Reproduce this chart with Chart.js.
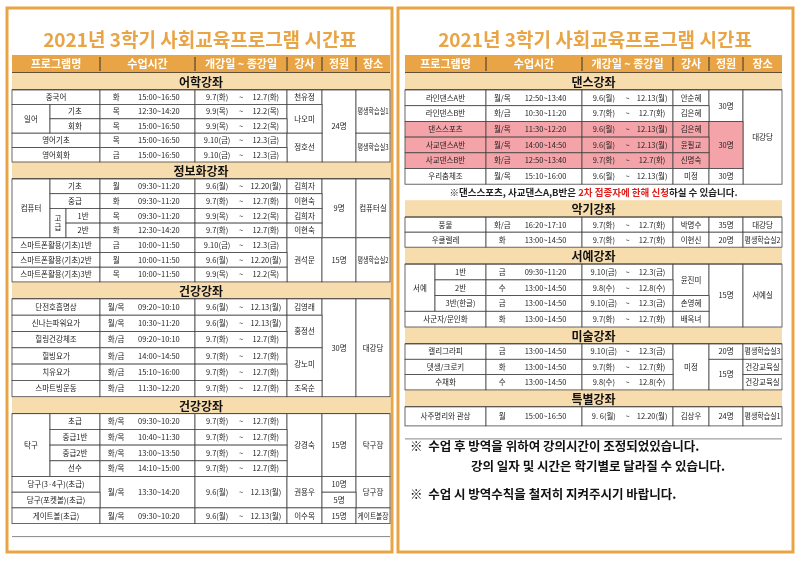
<!DOCTYPE html>
<html>
<head>
<meta charset="utf-8">
<script src="https://cdn.jsdelivr.net/npm/chart.js@4"></script>
<style>body{margin:0;background:#fff}</style>
</head>
<body>
<canvas id="canvas" width="800" height="566"></canvas>
<script>
const TITLE = "2021년 3학기 사회교육프로그램 시간표";
const HEADERS = ["프로그램명", "수업시간", "개강일 ~ 종강일", "강사", "정원", "장소"];

// row: [name, day, time, start, end, teacher, capacity, place]; null = merged with the cell above
const language = [
	["중국어", "화", "15:00~16:50", "9.7(화)", "12.7(화)", "천유정", "24명", "평생학습실1"],
	[["일어", "기초"], "목", "12:30~14:20", "9.9(목)", "12.2(목)", "나오미", null, null],
	[[null, "회화"], "목", "15:00~16:50", "9.9(목)", "12.2(목)", null, null, null],
	["영어기초", "목", "15:00~16:50", "9.10(금)", "12.3(금)", "정호선", null, "평생학습실3"],
	["영어회화", "금", "15:00~16:50", "9.10(금)", "12.3(금)", null, null, null],
];
const computer = [
	[["컴퓨터", "기초"], "월", "09:30~11:20", "9.6(월)", "12.20(월)", "김희자", "9명", "컴퓨터실"],
	[[null, "중급"], "화", "09:30~11:20", "9.7(화)", "12.7(화)", "이현숙", null, null],
	[[null, "고급", "1반"], "목", "09:30~11:20", "9.9(목)", "12.2(목)", "김희자", null, null],
	[[null, null, "2반"], "화", "12:30~14:20", "9.7(화)", "12.7(화)", "이현숙", null, null],
	["스마트폰활용(기초)1반", "금", "10:00~11:50", "9.10(금)", "12.3(금)", "권석문", "15명", "평생학습실2"],
	["스마트폰활용(기초)2반", "월", "10:00~11:50", "9.6(월)", "12.20(월)", null, null, null],
	["스마트폰활용(기초)3반", "목", "10:00~11:50", "9.9(목)", "12.2(목)", null, null, null],
];
const health1 = [
	["단전호흡명상", "월/목", "09:20~10:10", "9.6(월)", "12.13(월)", "김영래", "30명", "대강당"],
	["신나는파워요가", "월/목", "10:30~11:20", "9.6(월)", "12.13(월)", "홍정선", null, null],
	["힐링건강체조", "화/금", "09:20~10:10", "9.7(화)", "12.7(화)", null, null, null],
	["힐빙요가", "화/금", "14:00~14:50", "9.7(화)", "12.7(화)", "강노미", null, null],
	["치유요가", "화/금", "15:10~16:00", "9.7(화)", "12.7(화)", null, null, null],
	["스마트빙운동", "화/금", "11:30~12:20", "9.7(화)", "12.7(화)", "조옥순", null, null],
];
const health2 = [
	[["탁구", "초급"], "화/목", "09:30~10:20", "9.7(화)", "12.7(화)", "강경숙", "15명", "탁구장"],
	[[null, "중급1반"], "화/목", "10:40~11:30", "9.7(화)", "12.7(화)", null, null, null],
	[[null, "중급2반"], "화/목", "13:00~13:50", "9.7(화)", "12.7(화)", null, null, null],
	[[null, "선수"], "화/목", "14:10~15:00", "9.7(화)", "12.7(화)", null, null, null],
	["당구(3·4구)(초급)", "월/목", "13:30~14:20", "9.6(월)", "12.13(월)", "권용우", "10명", "당구장"],
	["당구(포켓볼)(초급)", null, null, null, null, null, "5명", null],
	["게이트볼(초급)", "월/목", "09:30~10:20", "9.6(월)", "12.13(월)", "이수목", "15명", "게이트볼장"],
];
const dance = [
	["라인댄스A반", "월/목", "12:50~13:40", "9.6(월)", "12.13(월)", "안순혜", "30명", "대강당"],
	["라인댄스B반", "화/금", "10:30~11:20", "9.7(화)", "12.7(화)", "김은혜", null, null],
	["댄스스포츠", "월/목", "11:30~12:20", "9.6(월)", "12.13(월)", "김은혜", "30명", null],
	["사교댄스A반", "월/목", "14:00~14:50", "9.6(월)", "12.13(월)", "윤필교", null, null],
	["사교댄스B반", "화/금", "12:50~13:40", "9.7(화)", "12.7(화)", "신명숙", null, null],
	["우리춤체조", "월/목", "15:10~16:00", "9.6(월)", "12.13(월)", "미정", "30명", null],
];
const music = [
	["풍물", "화/금", "16:20~17:10", "9.7(화)", "12.7(화)", "박명수", "35명", "대강당"],
	["우쿨렐레", "화", "13:00~14:50", "9.7(화)", "12.7(화)", "이현신", "20명", "평생학습실2"],
];
const calligraphy = [
	[["서예", "1반"], "금", "09:30~11:20", "9.10(금)", "12.3(금)", "윤진미", "15명", "서예실"],
	[[null, "2반"], "수", "13:00~14:50", "9.8(수)", "12.8(수)", null, null, null],
	[[null, "3반(한글)"], "금", "13:00~14:50", "9.10(금)", "12.3(금)", "손영혜", null, null],
	["사군자/문인화", "화", "13:00~14:50", "9.7(화)", "12.7(화)", "배옥녀", null, null],
];
const art = [
	["캘리그라피", "금", "13:00~14:50", "9.10(금)", "12.3(금)", "미정", "20명", "평생학습실3"],
	["뎃생/크로키", "화", "13:00~14:50", "9.7(화)", "12.7(화)", null, "15명", "건강교육실"],
	["수채화", "수", "13:00~14:50", "9.8(수)", "12.8(수)", null, null, "건강교육실"],
];
const special = [
	["사주명리와 관상", "월", "15:00~16:50", "9. 6(월)", "12.20(월)", "김상우", "24명", "평생학습실1"],
];
const pinkRows = ["댄스스포츠", "사교댄스A반", "사교댄스B반"];
const danceNote = ["※댄스스포츠, 사교댄스A,B반은 ", "2차 접종자에 한해 신청", "하실 수 있습니다."];
const footNotes = [
	"※  수업 후 방역을 위하여 강의시간이 조정되었있습니다.",
	"강의 일자 및 시간은 학기별로 달라질 수 있습니다.",
	"※  수업 시 방역수칙을 철저히 지켜주시기 바랍니다.",
];

const FONT = '"Noto Sans CJK KR", "Noto Sans", sans-serif';
const ORANGE = "#e9a445";

const leftTable = {
	x: [12, 100, 195, 287, 322, 356, 390], sub: [50, 66], top: 55,
	sections: [
		{ title: "어학강좌", rows: language, h: 14.4 },
		{ title: "정보화강좌", rows: computer, h: 14.7 },
		{ title: "건강강좌", rows: health1, h: 16.3 },
		{ title: "건강강좌", rows: health2, h: 15.7 },
	],
};
const rightTable = {
	x: [405, 486, 582, 673, 709, 743, 782], sub: [435, 451], top: 55,
	sections: [
		{ title: "댄스강좌", rows: dance, h: 15.7, note: danceNote },
		{ title: "악기강좌", rows: music, h: 15 },
		{ title: "서예강좌", rows: calligraphy, h: 15.7 },
		{ title: "미술강좌", rows: art, h: 15.3 },
		{ title: "특별강좌", rows: special, h: 19 },
	],
};

function drawTable(ctx, X, Y, t) {
	const xs = t.x;
	const cells = [];
	const bands = [];
	let y = t.top;
	bands.push({ y0: y, y1: y + 18, text: HEADERS, header: true });
	y += 18;
	t.sections.forEach((s) => {
		bands.push({ y0: y, y1: y + 17, text: s.title });
		y += 17;
		const open = {};
		s.rows.forEach((r) => {
			const y1 = y + s.h;
			const fill = pinkRows.includes(Array.isArray(r[0]) ? r[0].at(-1) : r[0]) ? "#f4a3a8" : "#fff";
			const put = (key, x0, x1, val, kind) => {
				if (val === null || val === undefined) { if (open[key]) open[key].y1 = y1; return; }
				const c = { x0, x1, y0: y, y1, val, kind, fill };
				cells.push(c); open[key] = c;
			};
			const n = Array.isArray(r[0]) ? r[0] : [r[0]];
			if (n.length === 1) put("n0", xs[0], xs[1], n[0]);
			else if (n.length === 2) { put("n0", xs[0], t.sub[0], n[0]); put("n1", t.sub[0], xs[1], n[1]); }
			else { put("n0", xs[0], t.sub[0], n[0]); put("n1", t.sub[0], t.sub[1], n[1], "v"); put("n2", t.sub[1], xs[1], n[2]); }
			put("when", xs[1], xs[2], r[1] === null ? null : [r[1], r[2]], "when");
			put("dates", xs[2], xs[3], r[3] === null ? null : [r[3], r[4]], "dates");
			put("teacher", xs[3], xs[4], r[5]);
			put("cap", xs[4], xs[5], r[6]);
			put("place", xs[5], xs[6], r[7]);
			y = y1;
		});
		if (s.note) { bands.push({ y0: y, y1: y + 16, note: s.note }); y += 16; }
	});
	const bottom = y;
	const px = (v) => X.getPixelForValue(v), py = (v) => Y.getPixelForValue(v);
	ctx.save();
	ctx.textBaseline = "middle";
	bands.forEach((b) => {
		const x0 = px(xs[0]), x1 = px(xs[6]), y0 = py(b.y0), y1 = py(b.y1);
		if (b.note) {
			ctx.font = "bold 9.5px " + FONT;
			const w = b.note.map((s) => ctx.measureText(s).width);
			let cx = (x0 + x1) / 2 - (w[0] + w[1] + w[2]) / 2;
			b.note.forEach((s, i) => { ctx.fillStyle = i === 1 ? "#e0201c" : "#222"; ctx.textAlign = "left"; ctx.fillText(s, cx, (y0 + y1) / 2); cx += w[i]; });
			return;
		}
		ctx.fillStyle = b.header ? ORANGE : "#f7dcae";
		ctx.fillRect(x0, y0, x1 - x0, y1 - y0);
		ctx.strokeStyle = "#333"; ctx.lineWidth = 1.4;
		ctx.beginPath(); ctx.moveTo(x0, y1); ctx.lineTo(x1, y1); ctx.stroke();
		ctx.textAlign = "center";
		if (b.header) {
			ctx.font = "bold 11px " + FONT; ctx.fillStyle = "#fff";
			b.text.forEach((h, i) => {
				ctx.fillText(h, (px(xs[i]) + px(xs[i + 1])) / 2, (y0 + y1) / 2);
				if (i > 0) { ctx.strokeStyle = "#333"; ctx.lineWidth = 1; ctx.beginPath(); ctx.moveTo(px(xs[i]), y0 + 2); ctx.lineTo(px(xs[i]), y1 - 2); ctx.stroke(); }
			});
		} else {
			ctx.font = "bold 12px " + FONT; ctx.fillStyle = "#111";
			ctx.fillText(b.text, (x0 + x1) / 2, (y0 + y1) / 2 + 1);
		}
	});
	cells.forEach((c) => {
		const x0 = px(c.x0), x1 = px(c.x1), y0 = py(c.y0), y1 = py(c.y1);
		ctx.fillStyle = c.fill; ctx.fillRect(x0, y0, x1 - x0, y1 - y0);
		ctx.strokeStyle = "#444"; ctx.lineWidth = 0.8; ctx.strokeRect(x0, y0, x1 - x0, y1 - y0);
		ctx.fillStyle = "#222"; ctx.font = "7.5px " + FONT; ctx.textAlign = "center";
		const cy = (y0 + y1) / 2, w = x1 - x0;
		if (c.kind === "when") {
			ctx.fillText(c.val[0], x0 + w * 0.17, cy);
			ctx.fillText(c.val[1], x0 + w * 0.62, cy);
		} else if (c.kind === "dates") {
			ctx.fillText(c.val[0], x0 + w * 0.24, cy);
			ctx.fillText("~", x0 + w * 0.5, cy);
			ctx.fillText(c.val[1], x0 + w * 0.77, cy);
		} else if (c.kind === "v") {
			[...c.val].forEach((ch, i, a) => ctx.fillText(ch, (x0 + x1) / 2, cy + (i - (a.length - 1) / 2) * 9));
		} else {
			ctx.fillText(c.val, (x0 + x1) / 2, cy, w - 3);
		}
	});
	ctx.strokeStyle = "#888"; ctx.lineWidth = 1;
	ctx.beginPath(); ctx.moveTo(px(xs[0]), py(bottom + 13)); ctx.lineTo(px(xs[6]), py(bottom + 13)); ctx.stroke();
	ctx.restore();
}

const tablePlugin = {
	id: "timetable",
	afterDraw(chart) {
		const ctx = chart.ctx, X = chart.scales.x, Y = chart.scales.y;
		const px = (v) => X.getPixelForValue(v), py = (v) => Y.getPixelForValue(v);
		ctx.save();
		ctx.strokeStyle = ORANGE; ctx.lineWidth = 3;
		[[7, 392], [398, 793]].forEach(([a, b]) => ctx.strokeRect(px(a), py(8), px(b) - px(a), py(552) - py(8)));
		ctx.fillStyle = ORANGE; ctx.font = "bold 19px " + FONT; ctx.textAlign = "center"; ctx.textBaseline = "middle";
		ctx.fillText(TITLE, px(200), py(40), 370);
		ctx.fillText(TITLE, px(595), py(40), 370);
		ctx.restore();
		drawTable(ctx, X, Y, leftTable);
		drawTable(ctx, X, Y, rightTable);
		ctx.save();
		ctx.fillStyle = "#111"; ctx.font = "bold 12.5px " + FONT; ctx.textBaseline = "middle";
		ctx.textAlign = "left"; ctx.fillText(footNotes[0], px(410), py(446));
		ctx.textAlign = "center"; ctx.fillText(footNotes[1], px(598), py(466));
		ctx.textAlign = "left"; ctx.fillText(footNotes[2], px(410), py(494));
		ctx.restore();
	},
};

const grafico = new Chart(document.getElementById("canvas"), {
	type: "scatter",
	data: { datasets: [{ data: [] }] },
	options: {
		responsive: false,
		animation: false,
		layout: { padding: 0 },
		plugins: { legend: { display: false }, tooltip: { enabled: false } },
		scales: {
			x: { type: "linear", min: 0, max: 800, display: false },
			y: { type: "linear", min: 0, max: 566, reverse: true, display: false },
		},
	},
	plugins: [tablePlugin],
});
</script>
</body>
</html>
